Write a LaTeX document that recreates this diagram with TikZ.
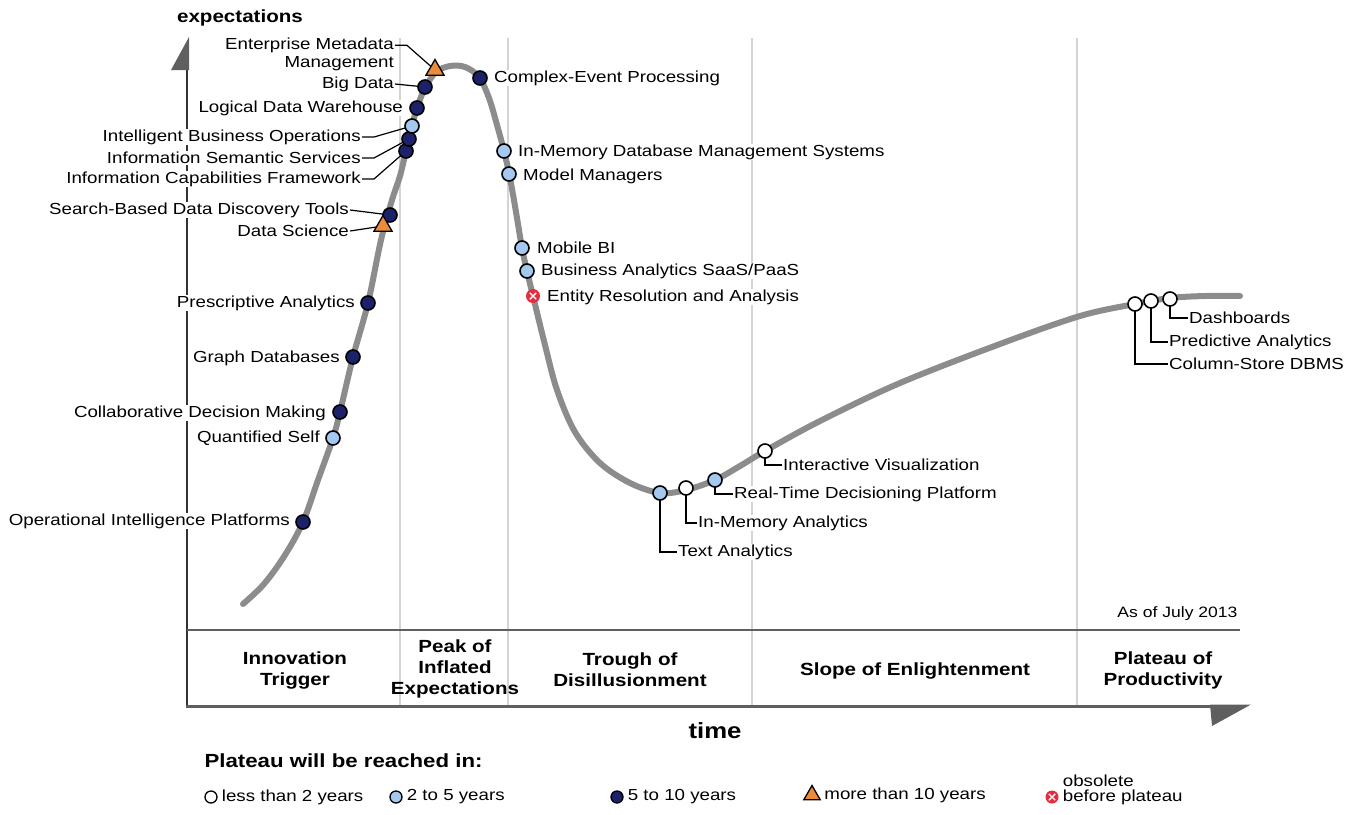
\documentclass[tikz,border=0pt]{standalone}
\usepackage{fontspec}
\setmainfont{Liberation Sans}[FakeStretch=1.17]
\usetikzlibrary{shapes.geometric}
\definecolor{navy}{RGB}{28,34,105}
\definecolor{sky}{RGB}{165,200,240}
\definecolor{amber}{RGB}{235,140,60}
\definecolor{rose}{RGB}{228,45,65}
\definecolor{axisgray}{RGB}{95,95,95}
\definecolor{curvegray}{RGB}{140,140,140}
\definecolor{phasegray}{RGB}{212,212,212}
\begin{document}
\begin{tikzpicture}[x=1pt,y=-1pt,
  mk/.style={circle,draw=black,line width=1.6pt,minimum size=14pt,inner sep=0pt},
  lt2/.style={mk,fill=white},
  y25/.style={mk,fill=sky},
  y510/.style={mk,fill=navy},
  y10/.style={regular polygon,regular polygon sides=3,draw=black,line width=1.3pt,fill=amber,minimum size=21pt,inner sep=0pt},
  obs/.style={circle,fill=rose,minimum size=14pt,inner sep=0pt,
    path picture={\draw[white,line width=1.4pt]
      ([shift={(-3.2pt,-3.2pt)}]path picture bounding box.center) -- ++(6.4pt,6.4pt)
      ([shift={(-3.2pt,3.2pt)}]path picture bounding box.center) -- ++(6.4pt,-6.4pt);}},
  lab/.style={font=\fontsize{16}{18}\selectfont,inner sep=1pt,fill=white},
  phase/.style={font=\fontsize{17.6}{21}\selectfont\bfseries,align=center},
  lead/.style={black,line width=1.2pt}]
\useasboundingbox (0,0) rectangle (1362,814);
% phases and axes
\foreach \x in {400,508,752,1077}
  \draw[phasegray,line width=2.5pt] (\x,38) -- (\x,706);
\draw[black!80,line width=1.8pt] (187,706) -- (187,50);
\fill[axisgray] (189,37) -- (171,70) -- (189,70) -- cycle;
\draw[axisgray,line width=2.5pt] (187,630) -- (1240,630);
\draw[axisgray,line width=3pt] (186,706) -- (1215,706);
\fill[axisgray] (1210,704.5) -- (1251,704.5) -- (1212,726) -- cycle;
\node[font=\fontsize{17.6}{20}\selectfont\bfseries] (ylab) at (240,18) {expectations};
\node[font=\fontsize{22}{24}\selectfont\bfseries] (xlab) at (715,731) {time};
\node[font=\fontsize{15}{17}\selectfont,anchor=east] (asof) at (1241,614) {As of July 2013};
\node[phase] (p1) at (295,670) {Innovation\\Trigger};
\node[phase] (p2) at (455,669) {Peak of\\Inflated\\Expectations};
\node[phase] (p3) at (630,670) {Trough of\\Disillusionment};
\node[phase] (p4) at (915,671) {Slope of Enlightenment};
\node[phase] (p5) at (1163,670) {Plateau of\\Productivity};
% hype curve
\draw[curvegray,line width=6pt,line cap=round] plot[smooth,tension=0.55] coordinates {
  (243,604) (264,584) (285,555) (303,522) (318,480) (333,438) (340,412) (353,357) (368,303)
  (381,240) (392,200) (400,176) (406,151) (411,130) (417,108) (425,88) (436,72)
  (450,66) (465,67) (479,77) (489,98) (497,125) (504,151) (510,178) (516,212)
  (522,248) (527,271) (533,296) (545,345) (557,390) (575,432) (600,463) (630,483)
  (660,493) (686,490) (715,480) (740,466) (765,451) (820,421) (900,383) (1000,344)
  (1080,316) (1135,304) (1170,298) (1205,296) (1240,296)};
% labels
\node[lab,anchor=east,align=right] (l-emm) at (395,54) {Enterprise Metadata\\Management};
\node[lab,anchor=east] (l-bd) at (395,84) {Big Data};
\node[lab,anchor=east] (l-ldw) at (404,108) {Logical Data Warehouse};
\node[lab,anchor=east] (l-ibo) at (362,137) {Intelligent Business Operations};
\node[lab,anchor=east] (l-iss) at (362,158) {Information Semantic Services};
\node[lab,anchor=east] (l-icf) at (362,179) {Information Capabilities Framework};
\node[lab,anchor=east] (l-sbd) at (350,210) {Search-Based Data Discovery Tools};
\node[lab,anchor=east] (l-ds) at (350,231) {Data Science};
\node[lab,anchor=east] (l-pa) at (356,303) {Prescriptive Analytics};
\node[lab,anchor=east] (l-gd) at (341,358) {Graph Databases};
\node[lab,anchor=east] (l-cdm) at (327,413) {Collaborative Decision Making};
\node[lab,anchor=east] (l-qs) at (321,438) {Quantified Self};
\node[lab,anchor=east] (l-oip) at (291,521) {Operational Intelligence Platforms};
\node[lab,anchor=west] (l-cep) at (493,78) {Complex-Event Processing};
\node[lab,anchor=west] (l-imdb) at (517,152) {In-Memory Database Management Systems};
\node[lab,anchor=west] (l-mm) at (522,176) {Model Managers};
\node[lab,anchor=west] (l-mbi) at (536,248) {Mobile BI};
\node[lab,anchor=west] (l-ba) at (540,271) {Business Analytics SaaS/PaaS};
\node[lab,anchor=west] (l-er) at (546,297) {Entity Resolution and Analysis};
\node[lab,anchor=west] (l-ta) at (677,552) {Text Analytics};
\node[lab,anchor=west] (l-ima) at (697,523) {In-Memory Analytics};
\node[lab,anchor=west] (l-rtd) at (733,494) {Real-Time Decisioning Platform};
\node[lab,anchor=west] (l-iv) at (782,465) {Interactive Visualization};
\node[lab,anchor=west] (l-cs) at (1168,364) {Column-Store DBMS};
\node[lab,anchor=west] (l-pan) at (1168,342) {Predictive Analytics};
\node[lab,anchor=west] (l-db) at (1188,318) {Dashboards};
% positions of the technologies on the curve
\foreach \x/\y/\s/\n in {
  425/87/y510/bd, 417/108/y510/ldw, 406/151/y510/icf, 409/139/y510/iss,
  412/126/y25/ibo, 390/215/y510/sbd, 368/303/y510/pa, 353/357/y510/gd,
  340/412/y510/cdm, 333/438/y25/qs, 303/522/y510/oip, 480/78/y510/cep,
  504/151/y25/imdb, 509/174/y25/mm, 522/248/y25/mbi, 527/271/y25/ba,
  533/296/obs/er, 660/493/y25/ta, 686/488/lt2/ima, 715/480/y25/rtd,
  765/451/lt2/iv, 1135/304/lt2/cs, 1151/301/lt2/pan, 1170/299/lt2/db,
  435/70/y10/emm, 383/226/y10/ds}
  \coordinate (\n) at (\x,\y);
% leaders
\draw[lead] ([yshift=-9pt]l-emm.north east) -- ++(12,0) -- (emm);
\draw[lead] (l-bd.east) -- (bd);
\draw[lead] (l-ibo.east) -- ++(12,0) -- (ibo);
\draw[lead] (l-iss.east) -- ++(12,0) -- (iss);
\draw[lead] (l-icf.east) -- ++(12,0) -- (icf);
\draw[lead] (l-sbd.east) -- (sbd);
\draw[lead] (l-ds.east) -- (ds);
\foreach \n in {ta,ima,rtd,iv,cs,pan,db}
  \draw[lead] (\n) |- (l-\n.west);
% markers
\foreach \s/\n in {y510/bd, y510/ldw, y510/icf, y510/iss, y25/ibo, y510/sbd,
  y510/pa, y510/gd, y510/cdm, y25/qs, y510/oip, y510/cep, y25/imdb, y25/mm,
  y25/mbi, y25/ba, obs/er, y25/ta, lt2/ima, y25/rtd, lt2/iv, lt2/cs, lt2/pan,
  lt2/db, y10/emm, y10/ds}
  \node[\s] (m-\n) at (\n) {};
% legend
\node[font=\fontsize{19}{21}\selectfont\bfseries,anchor=west] (leg) at (201,761) {Plateau will be reached in:};
\node[lt2,minimum size=12pt,line width=1.3pt] (k1) at (211,797) {};
\node[y25,minimum size=12pt,line width=1.3pt] (k2) at (396,797) {};
\node[y510,minimum size=12pt,line width=1.3pt] (k3) at (617,797) {};
\node[y10,minimum size=19pt] (k4) at (812,795) {};
\node[obs,minimum size=13pt] (k5) at (1052,797) {};
\node[lab,anchor=west] (t1) at ([xshift=3pt]k1.east) {less than 2 years};
\node[lab,anchor=west] (t2) at ([xshift=3pt]k2.east) {2 to 5 years};
\node[lab,anchor=west] (t3) at ([xshift=3pt]k3.east) {5 to 10 years};
\node[lab,anchor=west] (t4) at ([xshift=5pt]k4.east) {more than 10 years};
\node[lab,anchor=west] (t5) at ([xshift=3pt]k5.east) {before plateau};
\node[lab,anchor=south west] (t6) at (t5.north west) {obsolete};
\end{tikzpicture}
\end{document}
